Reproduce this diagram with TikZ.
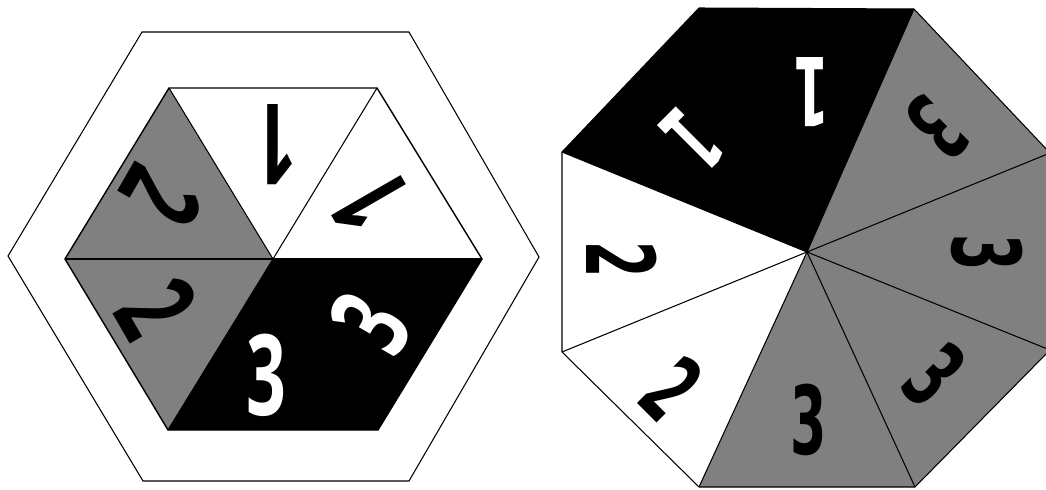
\documentclass[tikz,border=0pt]{standalone}
\usepackage{fontspec}
\newfontfamily\blockfont{Open Sans}[FakeStretch=0.62]
\newfontfamily\handfont{DejaVu Sans}[FakeStretch=0.55]
\definecolor{tilegray}{gray}{0.5}
\tikzset{
  edge/.style={draw=black, line width=0.6pt, line join=miter},
  blockdigit/.style={inner sep=0pt, font=\blockfont\bfseries\fontsize{64}{64}\selectfont},
  handdigit/.style={inner sep=0pt, font=\handfont\bfseries\fontsize{54}{54}\selectfont}
}
\begin{document}
\begin{tikzpicture}[x=0.02cm, y=-0.02cm]
        \useasboundingbox (0,0) rectangle (1046,490);
        \clip (0,0) rectangle (1046,490);

        % hexagon board
        \coordinate (hc) at (273,259);
        \coordinate (hl) at (65,259);
        \coordinate (htl) at (169,88);
        \coordinate (htr) at (377,88);
        \coordinate (hr) at (482,259);
        \coordinate (hbr) at (378,430);
        \coordinate (hbl) at (168,430);
        \coordinate (ol) at (8,256);
        \coordinate (otl) at (142,32);
        \coordinate (otr) at (409,32);
        \coordinate (or) at (539,257);
        \coordinate (obr) at (409,481);
        \coordinate (obl) at (143,481);

        \fill[tilegray] (hc) -- (hl) -- (htl) -- cycle;
        \fill[tilegray] (hc) -- (hbl) -- (hl) -- cycle;
        \fill[black] (hc) -- (hr) -- (hbr) -- (hbl) -- cycle;
        \draw[edge] (ol) -- (otl) -- (otr) -- (or) -- (obr) -- (obl) -- cycle;
        \draw[edge, line width=0.8pt] (hl) -- (htl) -- (htr) -- (hr) -- (hbr) -- (hbl) -- cycle;
        \draw[edge, line width=1pt] (hc) -- (hl);
        \draw[edge] (hc) -- (htl);
        \draw[edge] (hc) -- (htr);
        \draw[edge] (hc) -- (hr);
        \draw[edge] (hc) -- (hbl);

        \node (hone1) [blockdigit, rotate=180] at (277,145) {1};
        \node (hone2) [blockdigit, rotate=120] at (371,203) {1};
        \node (htwo1) [blockdigit, rotate=240] at (162,196) {2};
        \node (htwo2) [blockdigit, rotate=300] at (157,308) {2};
        \node (hthree1) [blockdigit, text=white] at (266,375) {3};
        \node (hthree2) [blockdigit, text=white, rotate=60] at (371,323) {3};

        % octagon board
        \coordinate (oc) at (807,252);
        \coordinate (tl) at (699,8);
        \coordinate (tr) at (914,9);
        \coordinate (ru) at (1050,153);
        \coordinate (rl) at (1050,350);
        \coordinate (br) at (915,487);
        \coordinate (bl) at (699,487);
        \coordinate (ll) at (562,352);
        \coordinate (lu) at (562,152);

        \fill[black] (oc) -- (lu) -- (tl) -- (tr) -- cycle;
        \fill[tilegray] (oc) -- (tr) -- (ru) -- (rl) -- (br) -- (bl) -- cycle;
        \draw[edge] (tl) -- (tr) -- (ru) -- (rl) -- (br) -- (bl) -- (ll) -- (lu) -- cycle;
        \draw[edge] (oc) -- (tr);
        \draw[edge] (oc) -- (ru);
        \draw[edge] (oc) -- (rl);
        \draw[edge] (oc) -- (br);
        \draw[edge] (oc) -- (bl);
        \draw[edge] (oc) -- (ll);
        \draw[edge] (oc) -- (lu);

        \node (oone1) [handdigit, text=white, rotate=180] at (811,92) {1};
        \node (oone2) [handdigit, text=white, rotate=225] at (692,140) {1};
        \node (otwo1) [handdigit, rotate=270] at (622,260) {2};
        \node (otwo2) [handdigit, rotate=315] at (672,388) {2};
        \node (othree1) [handdigit] at (809,420) {3};
        \node (othree2) [handdigit, rotate=-45] at (935,375) {3};
        \node (othree3) [handdigit, rotate=-90] at (987,253) {3};
        \node (othree4) [handdigit, rotate=-135] at (937,128) {3};
\end{tikzpicture}
\end{document}
